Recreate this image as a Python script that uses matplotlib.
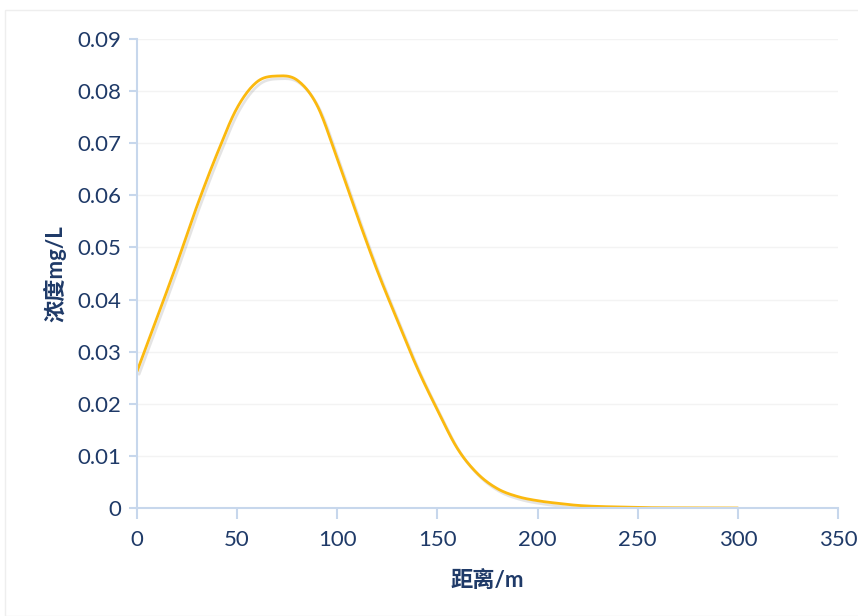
import numpy as np
import matplotlib
matplotlib.use("Agg")
import matplotlib.pyplot as plt
import matplotlib.patheffects as pe
from matplotlib.patches import Rectangle

# ---- data ----
distance_m = [0, 10, 20, 30, 40, 50, 60, 70, 80, 90, 100, 110, 120, 130, 140,
              150, 160, 170, 180, 190, 200, 210, 220, 230, 240, 250, 260, 270,
              280, 290, 300]
concentration = [0.0262, 0.0365, 0.0470, 0.0580, 0.0680, 0.0768, 0.0818, 0.0829,
                 0.0821, 0.0772, 0.0670, 0.0560, 0.0455, 0.0360, 0.0268, 0.0188,
                 0.0114, 0.0066, 0.0037, 0.0022, 0.0014, 0.0009, 0.0005, 0.0003,
                 0.0002, 0.0001, 0.00005, 0.00003, 0.00002, 0.00001, 0.0]
xticks = [0, 50, 100, 150, 200, 250, 300, 350]
yticks = [0, 0.01, 0.02, 0.03, 0.04, 0.05, 0.06, 0.07, 0.08, 0.09]
xlabel = "距离/m"
ylabel = "浓度mg/L"

NAVY = "#1F3A68"
AXIS = "#C7D7EC"
LINE = "#FBB90F"


def smooth(x, y, n=20):
    """Catmull-Rom rendering of a smoothed line through the given points."""
    x = np.asarray(x, float); y = np.asarray(y, float)
    px = np.concatenate([[2 * x[0] - x[1]], x, [2 * x[-1] - x[-2]]])
    py = np.concatenate([[2 * y[0] - y[1]], y, [2 * y[-1] - y[-2]]])
    xs, ys = [], []
    t = np.linspace(0, 1, n, endpoint=False)
    for i in range(1, len(px) - 2):
        for arr, out in ((px, xs), (py, ys)):
            p0, p1, p2, p3 = arr[i - 1], arr[i], arr[i + 1], arr[i + 2]
            out.extend(0.5 * ((2 * p1) + (-p0 + p2) * t +
                              (2 * p0 - 5 * p1 + 4 * p2 - p3) * t ** 2 +
                              (-p0 + 3 * p1 - 3 * p2 + p3) * t ** 3))
    xs.append(x[-1]); ys.append(y[-1])
    return np.array(xs), np.array(ys)


plt.rcParams['font.family'] = ['Lato', 'Noto Sans CJK SC', 'DejaVu Sans']

fig = plt.figure(figsize=(8.58, 6.16), dpi=100)
fig.patches.append(Rectangle((5 / 858, 0), 1.0, 1 - 10 / 616, transform=fig.transFigure,
                             fill=False, edgecolor="#EEEEEE", linewidth=1.0))
ax = fig.add_axes([137 / 858, 1 - 508 / 616, (838 - 137) / 858, (508 - 39) / 616])

sx, sy = smooth(distance_m, concentration)
ax.plot(sx, sy, color=LINE, linewidth=2.0, solid_capstyle='round',
        path_effects=[pe.SimpleLineShadow(offset=(1.5, -2), shadow_color="#888888", alpha=0.22),
                      pe.Normal()])

ax.set_xlim(0, 350)
ax.set_ylim(0, 0.09)
ax.set_xticks(xticks)
ax.set_yticks(yticks)
ax.set_xticklabels([str(v) for v in xticks])
ax.set_yticklabels(["0" if v == 0 else f"{v:.2f}" for v in yticks])

ax.grid(axis='y', color="#F3F3F3", linewidth=1.0)
ax.set_axisbelow(True)
for s in ['top', 'right']:
    ax.spines[s].set_visible(False)
for s in ['left', 'bottom']:
    ax.spines[s].set_color(AXIS)
    ax.spines[s].set_linewidth(1.5)

ax.tick_params(axis='y', direction='out', length=6, width=1.5, color=AXIS,
               labelcolor=NAVY, labelsize=16, pad=5)
ax.tick_params(axis='x', direction='out', length=8, width=1.5, color=AXIS,
               labelcolor=NAVY, labelsize=16, pad=8)

ax.set_xlabel(xlabel, fontsize=16, color=NAVY, fontweight='bold', labelpad=14)
ax.set_ylabel(ylabel, fontsize=16, color=NAVY, fontweight='bold', labelpad=8)

fig.savefig("out.png", dpi=100)
